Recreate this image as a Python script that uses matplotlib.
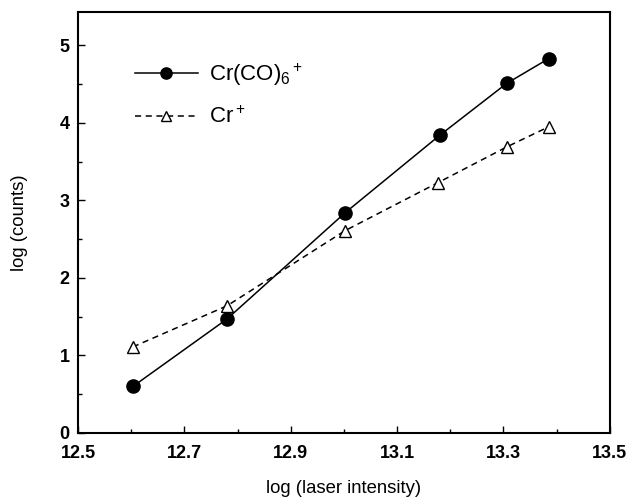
import numpy as np
import matplotlib
matplotlib.use('Agg')
import matplotlib.pyplot as plt
from matplotlib.ticker import MultipleLocator

plt.rcParams['font.family'] = ['Liberation Sans', 'DejaVu Sans']
plt.rcParams['mathtext.fontset'] = 'custom'
plt.rcParams['mathtext.rm'] = 'Liberation Sans'
plt.rcParams['mathtext.it'] = 'Liberation Sans'

# data
x_co = [12.603, 12.78, 13.002, 13.18, 13.306, 13.385]
y_co = [0.60, 1.47, 2.84, 3.84, 4.51, 4.83]
x_cr = [12.603, 12.78, 13.002, 13.177, 13.306, 13.385]
y_cr = [1.11, 1.64, 2.61, 3.23, 3.69, 3.95]

fig = plt.figure(figsize=(6.3, 5.04), dpi=100)
ax = fig.add_axes([0.124, 0.141, 0.844, 0.835])

ax.plot(x_co, y_co, '-', color='black', lw=1.1, marker='o', ms=9.5,
        mfc='black', mec='black', label=r'Cr(CO)$_6$$^+$')
ax.plot(x_cr, y_cr, '--', color='black', lw=1.1, marker='^', ms=8,
        mfc='white', mec='black', mew=1.0, label=r'Cr$^+$', dashes=(4, 3))

ax.set_xlim(12.5, 13.5)
ax.set_ylim(0, 5.43)
ax.set_xticks([12.5, 12.7, 12.9, 13.1, 13.3, 13.5])
ax.xaxis.set_minor_locator(MultipleLocator(0.1))
ax.set_yticks([0, 1, 2, 3, 4, 5])
ax.yaxis.set_minor_locator(MultipleLocator(0.5))
ax.tick_params(which='both', direction='in', width=1)
ax.tick_params(which='major', length=5, labelsize=13)
ax.tick_params(axis='x', which='major', pad=9)
ax.tick_params(axis='y', which='major', pad=6)
ax.tick_params(which='minor', length=3)
for lab in ax.get_xticklabels() + ax.get_yticklabels():
    lab.set_fontweight('bold')
for s in ax.spines.values():
    s.set_linewidth(1.5)

ax.set_xlabel('log (laser intensity)', fontsize=13.3)
ax.set_ylabel('log (counts)', fontsize=13.3)
ax.xaxis.set_label_coords(0.5, -0.112)
ax.yaxis.set_label_coords(-0.095, 0.5)

ax.legend(loc='upper left', bbox_to_anchor=(0.07, 0.93), frameon=False,
          fontsize=16, handlelength=2.8, handletextpad=0.5, labelspacing=0.85,
          markerscale=0.85)

plt.savefig('out.png', dpi=100)
